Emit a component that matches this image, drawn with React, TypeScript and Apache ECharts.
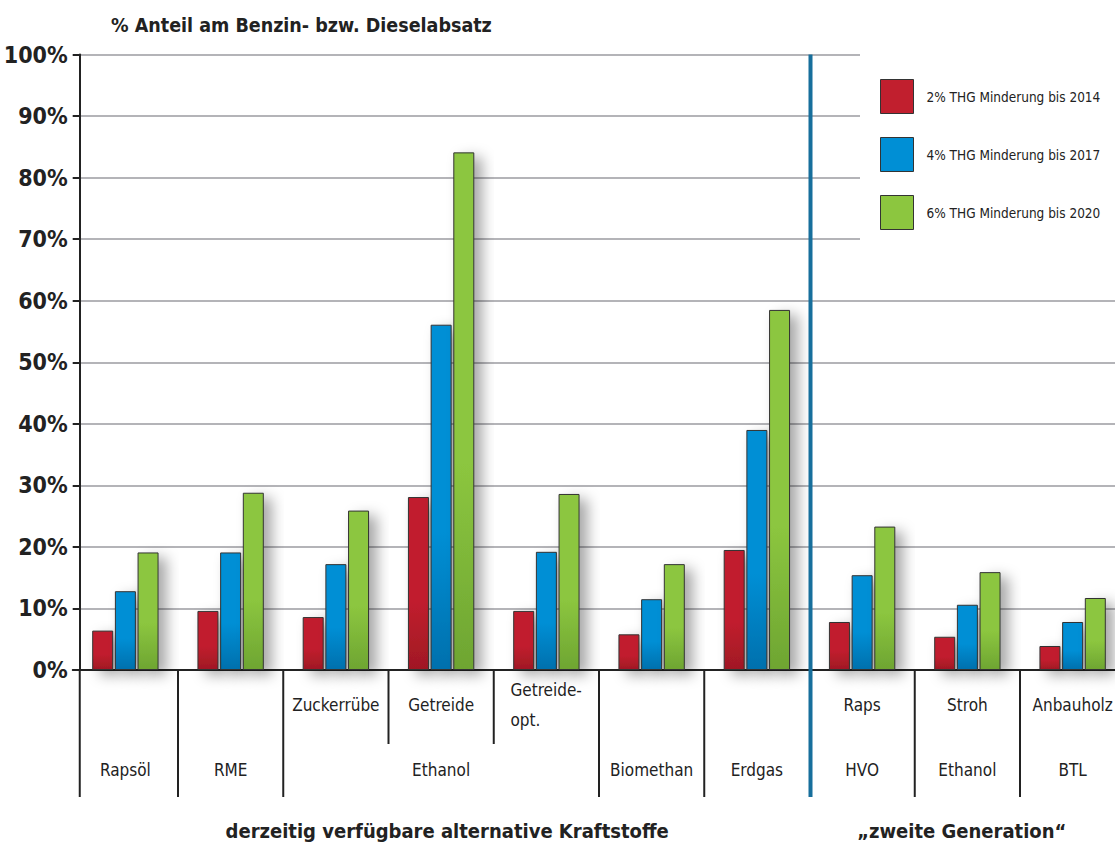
import React, { useEffect, useRef } from "react";
import * as echarts from "echarts";

const categories = ["Rapsöl", "RME", "Zuckerrübe", "Getreide", "Getreide-opt.", "Biomethan", "Erdgas", "Raps", "Stroh", "Anbauholz"];
const subLabels = ["", "", "Zuckerrübe", "Getreide", "Getreide-\nopt.", "", "", "Raps", "Stroh", "Anbauholz"];
const groupLabels = ["Rapsöl", "RME", "Ethanol", "Biomethan", "Erdgas", "HVO", "Ethanol", "BTL"];
const groupStart = [0, 1, 2, 5, 6, 7, 8, 9];
const groupEnd = [0, 1, 4, 5, 6, 7, 8, 9];
const seriesNames = ["2% THG Minderung bis 2014", "4% THG Minderung bis 2017", "6% THG Minderung bis 2020"];
const s2014 = [6.4, 9.6, 8.6, 28.1, 9.6, 5.8, 19.5, 7.8, 5.4, 3.9];
const s2017 = [12.8, 19.1, 17.2, 56.1, 19.2, 11.5, 39.0, 15.4, 10.6, 7.8];
const s2020 = [19.1, 28.8, 25.9, 84.1, 28.6, 17.2, 58.5, 23.3, 15.9, 11.7];
const titleText = "% Anteil am Benzin- bzw. Dieselabsatz";
const bottomLeft = "derzeitig verfügbare alternative Kraftstoffe";
const bottomRight = "\u201Ezweite Generation\u201C";

const FONT = "'Liberation Sans Narrow', 'DejaVu Sans Condensed', 'Arial Narrow', 'Noto Sans', sans-serif";
const colors = ["#c11f2e", "#008fd5", "#8cc63f"];
const darker = ["#a01824", "#0070ad", "#6ea532"];

export default function App() {
  const ref = useRef<HTMLDivElement>(null);
  useEffect(() => {
    const chart = echarts.init(ref.current!, null, { renderer: "svg" });
    const data = [s2014, s2017, s2020];
    const option: any = {
      animation: false,
      backgroundColor: "#ffffff",
      title: {
        text: titleText,
        left: 106,
        top: 10,
        textStyle: { fontFamily: FONT, fontWeight: "bold", fontSize: 19.5, color: "#222" },
      },
      grid: { left: 72.75, width: 1052.5, top: 54.5, bottom: 197, outerBoundsMode: "none", containLabel: false },
      legend: {
        orient: "vertical",
        left: 880,
        top: 79,
        itemWidth: 33,
        itemHeight: 34,
        itemGap: 23,
        padding: 0,
        z: 5,
        icon: "rect",
        textStyle: { fontFamily: FONT, fontSize: 13.5, color: "#222", padding: [0, 0, 0, 8] },
        data: seriesNames.map((n, i) => ({
          name: n,
          itemStyle: { color: colors[i], borderColor: "#333", borderWidth: 1 },
        })),
      },
      xAxis: {
        type: "category",
        data: categories,
        axisLine: { lineStyle: { color: "#222", width: 2 } },
        axisTick: { show: false },
        axisLabel: { show: false },
        splitLine: { show: false },
      },
      yAxis: {
        type: "value",
        min: 0,
        max: 100,
        interval: 10,
        offset: -7,
        axisLine: { show: true, lineStyle: { color: "#222", width: 2 } },
        axisTick: { show: true, length: 7, lineStyle: { color: "#222", width: 2 } },
        axisLabel: {
          margin: 12,
          formatter: "{value}%",
          fontFamily: FONT,
          fontWeight: "bold",
          fontSize: 23,
          color: "#222",
        },
        splitLine: { show: true, lineStyle: { color: "#b4b4b8", width: 2 } },
      },
      series: data.map((d, i) => ({
        name: seriesNames[i],
        type: "bar",
        data: d,
        barWidth: 21,
        barGap: "8%",
        z: 3,
        itemStyle: {
          color: {
            type: "linear",
            x: 0,
            y: 0,
            x2: 0,
            y2: 1,
            colorStops: [
              { offset: 0, color: colors[i] },
              { offset: 0.6, color: colors[i] },
              { offset: 1, color: darker[i] },
            ],
          },
          borderColor: "#333",
          borderWidth: 1,
          shadowBlur: 14,
          shadowColor: "rgba(0,0,0,0.35)",
          shadowOffsetX: 8,
          shadowOffsetY: 5,
        },
      })),
    };
    chart.setOption(option);

    const cx = (i: number) => chart.convertToPixel({ xAxisIndex: 0 }, categories[i]) as number;
    const step = cx(1) - cx(0);
    const boundary = (i: number) => cx(i) - step / 2;
    const y0 = chart.convertToPixel({ yAxisIndex: 0 }, 0) as number;
    const y100 = chart.convertToPixel({ yAxisIndex: 0 }, 100) as number;
    const axisX = boundary(0) + 7;
    const longBottom = y0 + 127;
    const shortBottom = y0 + 74;
    const blueIdx = 7;
    const blueX = boundary(blueIdx) + 1;

    const graphic: any[] = [];
    graphic.push({
      type: "rect",
      z: 1,
      shape: { x: 860, y: 44, width: 260, height: 226 },
      style: { fill: "#ffffff" },
    });
    graphic.push({
      type: "line",
      z: 4,
      shape: { x1: axisX, y1: y0, x2: axisX, y2: longBottom },
      style: { stroke: "#222", lineWidth: 2 },
    });
    const groupBoundaries = groupStart.slice(1);
    for (let i = 1; i < categories.length; i++) {
      if (i === blueIdx) continue;
      const isLong = groupBoundaries.indexOf(i) >= 0;
      const x = boundary(i);
      graphic.push({
        type: "line",
        z: 4,
        shape: { x1: x, y1: y0, x2: x, y2: isLong ? longBottom : shortBottom },
        style: { stroke: "#222", lineWidth: 2 },
      });
    }
    graphic.push({
      type: "line",
      z: 6,
      shape: { x1: blueX, y1: y100, x2: blueX, y2: longBottom },
      style: { stroke: "#176f9c", lineWidth: 4 },
    });
    subLabels.forEach((t, i) => {
      if (!t) return;
      const multi = t.indexOf("\n") >= 0;
      graphic.push({
        type: "text",
        z: 6,
        x: multi ? cx(i) - 36 : cx(i),
        y: y0 + 35,
        style: {
          text: t,
          fontFamily: FONT,
          fontSize: 17,
          fill: "#222",
          align: multi ? "left" : "center",
          verticalAlign: "middle",
          lineHeight: 30,
        },
      });
    });
    groupLabels.forEach((t, g) => {
      const x = (cx(groupStart[g]) + cx(groupEnd[g])) / 2;
      graphic.push({
        type: "text",
        z: 6,
        x,
        y: y0 + 100,
        style: { text: t, fontFamily: FONT, fontSize: 17, fill: "#222", align: "center", verticalAlign: "middle" },
      });
    });
    graphic.push({
      type: "text",
      z: 6,
      x: (axisX + blueX) / 2 + 2,
      y: y0 + 161,
      style: { text: bottomLeft, fontFamily: FONT, fontSize: 20, fontWeight: "bold", fill: "#222", align: "center", verticalAlign: "middle" },
    });
    graphic.push({
      type: "text",
      z: 6,
      x: (blueX + 1115) / 2 - 1,
      y: y0 + 161,
      style: { text: bottomRight, fontFamily: FONT, fontSize: 20, fontWeight: "bold", fill: "#222", align: "center", verticalAlign: "middle" },
    });
    chart.setOption({ graphic });
    return () => chart.dispose();
  }, []);
  return <div ref={ref} style={{ position: "fixed", left: 0, top: 0, width: 1115, height: 867 }} />;
}
